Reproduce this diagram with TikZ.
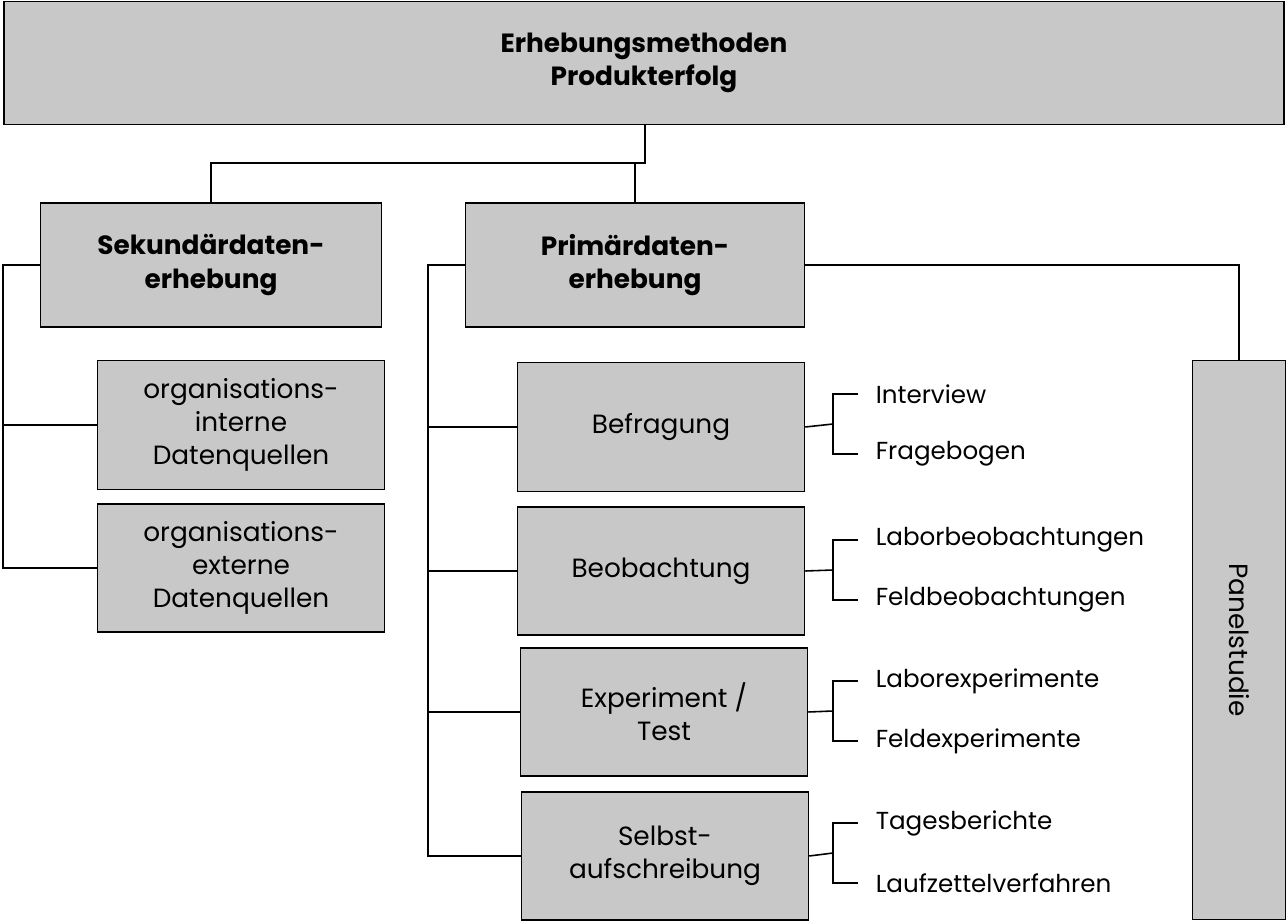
\documentclass[tikz,border=0pt]{standalone}
\usepackage{fontspec}
\setmainfont{Poppins}
\definecolor{boxgray}{HTML}{C8C8C8}
\tikzset{
  kasten/.style={draw, fill=boxgray, align=center, font=\fontsize{15}{19}\selectfont, inner sep=0pt},
  haupt/.style={kasten, font=\fontsize{15}{19}\selectfont\bfseries},
  punkt/.style={anchor=west, font=\fontsize{14}{17}\selectfont, inner sep=0pt}
}
\begin{document}
\begin{tikzpicture}[x=0.02cm, y=-0.02cm, line width=0.9pt]
        \useasboundingbox (0,0) rectangle (1288,922);
        %%%%%%%%%% Kaesten %%%%%%%%%%
        \node[haupt, minimum width=25.6cm, minimum height=2.46cm] (top) at (644,63) {Erhebungsmethoden\\Produkterfolg};
        \node[haupt, minimum width=6.82cm, minimum height=2.48cm] (sek) at (211,265) {Sekundärdaten-\\erhebung};
        \node[haupt, minimum width=6.78cm, minimum height=2.48cm] (prim) at (635,265) {Primärdaten-\\erhebung};
        \node[kasten, minimum width=5.74cm, minimum height=2.58cm] (int) at (241,425) {organisations-\\interne\\Datenquellen};
        \node[kasten, minimum width=5.74cm, minimum height=2.56cm] (ext) at (241,568) {organisations-\\externe\\Datenquellen};
        \node[kasten, minimum width=5.74cm, minimum height=2.58cm] (bef) at (661,427) {Befragung};
        \node[kasten, minimum width=5.74cm, minimum height=2.56cm] (beo) at (661,571) {Beobachtung};
        \node[kasten, minimum width=5.74cm, minimum height=2.56cm] (exp) at (664,712) {Experiment /\\Test};
        \node[kasten, minimum width=5.74cm, minimum height=2.56cm] (sel) at (665,856) {Selbst-\\aufschreibung};
        \node[kasten, minimum width=1.86cm, minimum height=11.18cm] (pan) at (1239,640) {};
        \node[rotate=-90, font=\fontsize{15}{19}\selectfont] (pantext) at (pan.center) {Panelstudie};

        %%%%%%%%%% Verbindungen %%%%%%%%%%
        \coordinate (t1) at (645,163);
        \draw (top.south -| t1) -- (t1) -| (sek.north);
        \draw (t1) -| (prim.north);
        \draw (sek.west) -| (3,568) -- (ext.west);
        \draw (3,425) -- (int.west);
        \draw (prim.west) -| (428,856) -- (sel.west);
        \draw (428,427) -- (bef.west);
        \draw (428,571) -- (beo.west);
        \draw (428,712) -- (exp.west);
        \draw (prim.east) -| (pan.north);

        %%%%%%%%%% Unterpunkte %%%%%%%%%%
        \foreach \kn/\ya/\yb/\ta/\tb in {bef/394/454/Interview/Fragebogen,
            beo/540/600/Laborbeobachtungen/Feldbeobachtungen,
            exp/681/741/Laborexperimente/Feldexperimente,
            sel/823/883/Tagesberichte/Laufzettelverfahren}{
          \draw (\kn.east) -- (833,{(\ya+\yb)/2});
          \draw (858,\ya) -- (833,\ya) -- (833,\yb) -- (858,\yb);
          \node[punkt] (\kn a) at (875,\ya) {\ta};
          \node[punkt] (\kn b) at (875,\yb) {\tb};
        }
    \end{tikzpicture}
\end{document}
